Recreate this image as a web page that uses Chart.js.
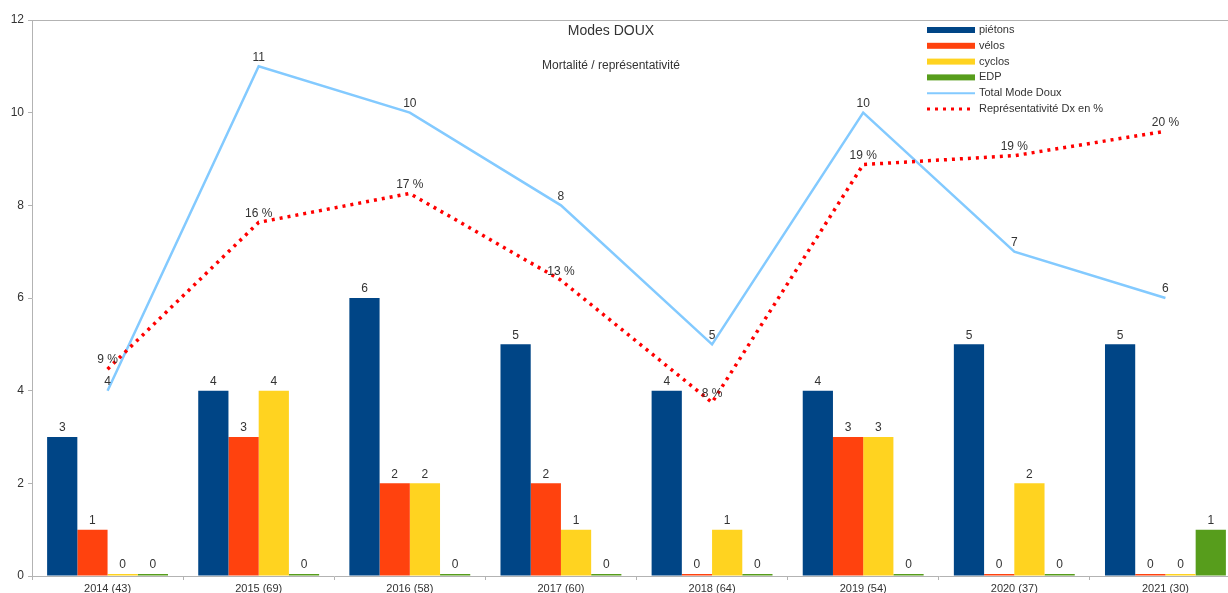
<!DOCTYPE html>
<html>
<head>
<meta charset="utf-8">
<script src="https://cdn.jsdelivr.net/npm/chart.js@4.4.1/dist/chart.umd.min.js"></script>
<style>
  html, body { margin: 0; padding: 0; background: #fff; overflow: hidden; }
  #wrap { width: 1241px; height: 593px; position: relative; }
</style>
</head>
<body>
<div id="wrap"><canvas id="c"></canvas></div>
<script>
// Données
const annees = ["2014 (43)", "2015 (69)", "2016 (58)", "2017 (60)", "2018 (64)", "2019 (54)", "2020 (37)", "2021 (30)"];
const pietons = [3, 4, 6, 5, 4, 4, 5, 5];
const velos   = [1, 3, 2, 2, 0, 3, 0, 0];
const cyclos  = [0, 4, 2, 1, 1, 3, 2, 0];
const edp     = [0, 0, 0, 0, 0, 0, 0, 1];
const totalDoux = [4, 11, 10, 8, 5, 10, 7, 6];
const representativite = [9.3, 15.9, 17.2, 13.3, 7.8, 18.5, 18.9, 20.0];
const yTicks = [0, 2, 4, 6, 8, 10, 12];

const FONT = "'Liberation Sans', Arial, sans-serif";
const AXIS = "#b3b3b3";
const TXT = "#333333";

// Étiquettes de valeurs au-dessus des barres et des points
const valueLabels = {
    id: "valueLabels",
    afterDatasetsDraw(chart) {
        const ctx = chart.ctx;
        ctx.save();
        ctx.font = "12px " + FONT;
        ctx.fillStyle = TXT;
        ctx.textAlign = "center";
        ctx.textBaseline = "bottom";
        chart.data.datasets.forEach((ds, i) => {
            const meta = chart.getDatasetMeta(i);
            meta.data.forEach((el, j) => {
                const v = ds.data[j];
                let txt = String(v);
                let off = 3;
                if (ds.type === "line") off = 3;
                if (ds.pct) txt = Math.round(v) + " %";
                ctx.fillText(txt, el.x, el.y - off);
            });
        });
        ctx.restore();
    }
};

// Titres et légende dessinés dans la zone du graphique
const titreLegende = {
    id: "titreLegende",
    afterDraw(chart) {
        const ctx = chart.ctx;
        ctx.save();
        ctx.fillStyle = TXT;
        ctx.textAlign = "center";
        ctx.textBaseline = "middle";
        ctx.font = "14px " + FONT;
        ctx.fillText("Modes DOUX", 611, 31);
        ctx.font = "12px " + FONT;
        ctx.fillText("Mortalité / représentativité", 611, 66);

        ctx.textAlign = "left";
        ctx.font = "11px " + FONT;
        const x0 = 927, w = 48;
        chart.data.datasets.forEach((ds, i) => {
            const y = 30 + i * 15.8;
            if (ds.type === "line") {
                ctx.strokeStyle = ds.borderColor;
                ctx.lineWidth = ds.pct ? 3 : 2;
                ctx.setLineDash(ds.pct ? [3, 5] : []);
                ctx.beginPath();
                ctx.moveTo(x0, y);
                ctx.lineTo(x0 + w, y);
                ctx.stroke();
                ctx.setLineDash([]);
            } else {
                ctx.fillStyle = ds.backgroundColor;
                ctx.fillRect(x0, y - 3, w, 6);
            }
            ctx.fillStyle = TXT;
            ctx.fillText(ds.label, x0 + w + 4, y);
        });
        ctx.restore();
    }
};

function barre(label, data, color) {
    return {
        type: "bar",
        label: label,
        data: data,
        backgroundColor: color,
        borderWidth: 0,
        minBarLength: 2,
        barPercentage: 1,
        categoryPercentage: 0.80,
        yAxisID: "y",
        order: 2
    };
}

new Chart(document.getElementById("c"), {
    data: {
        labels: annees,
        datasets: [
            barre("piétons", pietons, "#004586"),
            barre("vélos", velos, "#ff420e"),
            barre("cyclos", cyclos, "#ffd320"),
            barre("EDP", edp, "#579d1c"),
            {
                type: "line",
                label: "Total Mode Doux",
                data: totalDoux,
                borderColor: "#83caff",
                borderWidth: 2.5,
                pointRadius: 0,
                tension: 0,
                yAxisID: "y",
                order: 1
            },
            {
                type: "line",
                label: "Représentativité Dx en %",
                pct: true,
                data: representativite,
                borderColor: "#ff0000",
                borderWidth: 3.5,
                borderDash: [3, 5],
                pointRadius: 0,
                tension: 0,
                yAxisID: "y2",
                order: 0
            }
        ]
    },
    options: {
        responsive: true,
        maintainAspectRatio: false,
        animation: false,
        layout: { padding: { top: 20, right: 0, left: 0, bottom: 0 } },
        plugins: {
            legend: { display: false },
            tooltip: { enabled: false }
        },
        scales: {
            x: {
                afterFit(scale) { scale.height = 17; },
                border: { color: AXIS, width: 1 },
                grid: { drawOnChartArea: false, color: AXIS, tickLength: 4, offset: true },
                ticks: { color: TXT, font: { family: FONT, size: 11 }, padding: 2, maxRotation: 0 }
            },
            y: {
                min: 0,
                max: 12,
                afterFit(scale) { scale.width = 32; },
                afterBuildTicks(scale) { scale.ticks = yTicks.map(v => ({ value: v })); },
                border: { color: AXIS, width: 1 },
                grid: {
                    color: (c) => c.tick && c.tick.value === 12 ? AXIS : "rgba(0,0,0,0)",
                    tickColor: AXIS,
                    tickLength: 4
                },
                ticks: { color: TXT, font: { family: FONT, size: 12 }, padding: 4 }
            },
            y2: {
                display: false,
                min: 0,
                max: 25
            }
        }
    },
    plugins: [valueLabels, titreLegende]
});
</script>
</body>
</html>
